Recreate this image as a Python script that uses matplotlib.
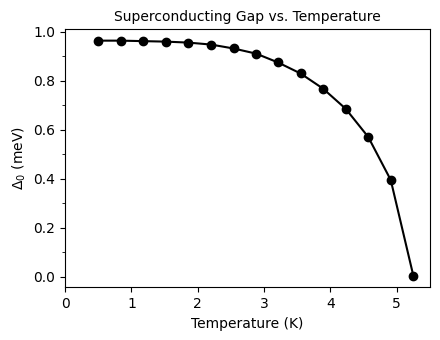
import matplotlib
matplotlib.use("Agg")
import matplotlib.pyplot as plt
from matplotlib.ticker import AutoMinorLocator

temperature = [0.50, 0.84, 1.18, 1.52, 1.86, 2.20, 2.54, 2.88,
               3.21, 3.55, 3.89, 4.23, 4.57, 4.91, 5.25]
gap = [0.964, 0.964, 0.962, 0.960, 0.956, 0.948, 0.932, 0.911,
       0.875, 0.830, 0.768, 0.686, 0.571, 0.395, 0.005]

fig, ax = plt.subplots(figsize=(4.4, 3.4), dpi=100)
ax.plot(temperature, gap, "o-", color="black")
ax.set_xlim(0, 5.5)
ax.yaxis.set_minor_locator(AutoMinorLocator(2))
ax.set_xlabel("Temperature (K)")
ax.set_ylabel(r"$\Delta_0$ (meV)")
ax.set_title("Superconducting Gap vs. Temperature", fontsize=10)
fig.subplots_adjust(left=0.148, right=0.977, top=0.915, bottom=0.155)
fig.savefig("out.png")
